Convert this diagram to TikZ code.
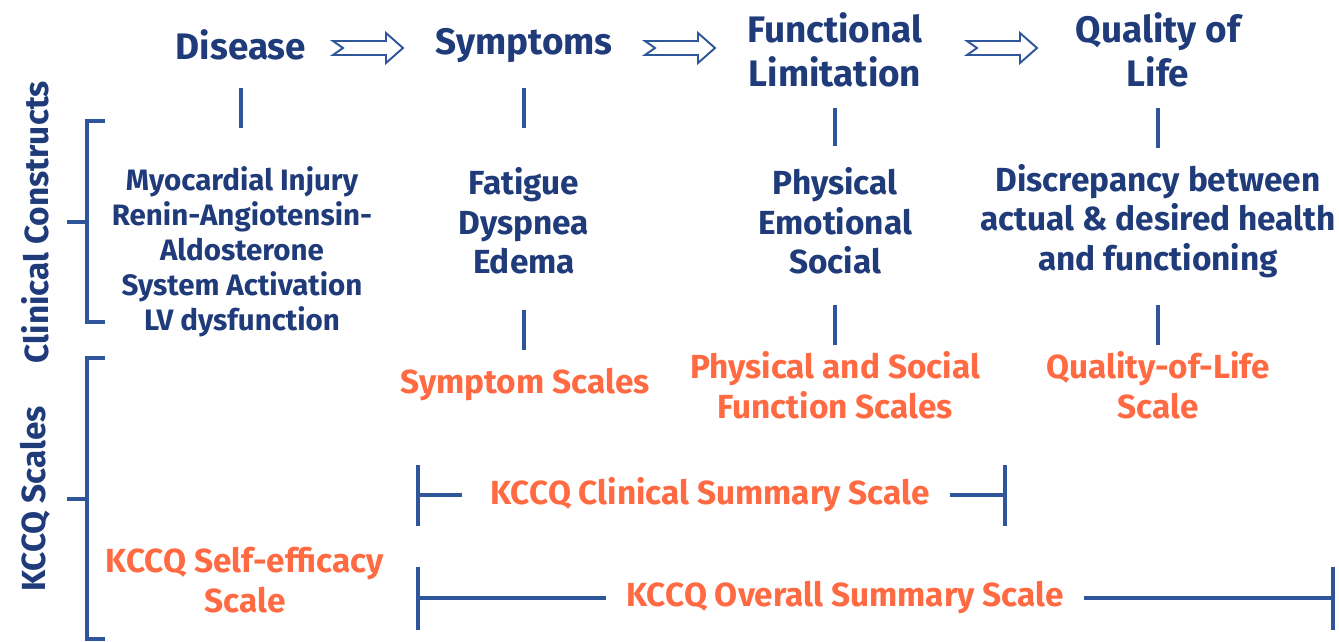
\documentclass[tikz,border=0pt]{standalone}
\usepackage{fontspec}
\setmainfont{Fira Sans}
\usetikzlibrary{calc}

\definecolor{navy}{HTML}{1F3B7A}
\definecolor{lineblue}{HTML}{2F569B}
\definecolor{scaleorange}{HTML}{FF6A42}

\tikzset{
	head/.style={font=\bfseries\fontsize{21}{25}\selectfont, text=navy, align=center, inner sep=0pt},
	body/.style={font=\bfseries\fontsize{19}{22.5}\selectfont, text=navy, align=center, inner sep=0pt},
	scalelbl/.style={font=\bfseries\fontsize{19}{22.5}\selectfont, text=scaleorange, align=center, inner sep=0pt},
	side/.style={font=\bfseries\fontsize{19}{22}\selectfont, text=navy, rotate=90, inner sep=0pt},
	link/.style={draw=lineblue, line width=2pt},
	fatarrow/.style={draw=lineblue, line width=1.1pt, fill=white, line join=miter}
}

% outlined arrow with a notched tail, from #1 to #2
\newcommand{\hollowarrow}[2]{%
	\draw[fatarrow] ($(#1)+(0,-7)$) -- ($(#2)+(-17,-7)$) -- ($(#2)+(-17,-15)$) -- (#2)
		-- ($(#2)+(-17,15)$) -- ($(#2)+(-17,7)$) -- ($(#1)+(0,7)$) -- ($(#1)+(10,0)$) -- cycle;}

\begin{document}
\begin{tikzpicture}[x=0.02cm, y=-0.02cm]
	\useasboundingbox (0,0) rectangle (1339,642);
	
	% headings
	\node[head] (dis) at (241,45) {Disease};
	\node[head] (sym) at (524,45) {Symptoms};
	\node[head] (fun) at (835,50) {Functional\\Limitation};
	\node[head] (qol) at (1158,50) {Quality of\\Life};
	
	\coordinate (a1) at (333,48);
	\coordinate (b1) at (403,48);
	\coordinate (a2) at (645,48);
	\coordinate (b2) at (715,48);
	\coordinate (a3) at (967,48);
	\coordinate (b3) at (1037,48);
	\hollowarrow{a1}{b1}
	\hollowarrow{a2}{b2}
	\hollowarrow{a3}{b3}
	
	% clinical constructs
	\node[body, font=\bfseries\fontsize{16.8}{19.9}\selectfont] (disbody) at (242,252)
		{Myocardial Injury\\Renin-Angiotensin-\\Aldosterone\\System Activation\\LV dysfunction};
	\node[body] (symbody) at (524,221) {Fatigue\\Dyspnea\\Edema};
	\node[body] (funbody) at (835,221) {Physical\\Emotional\\Social};
	\node[body] (qolbody) at (1158,221) {Discrepancy between\\actual \& desired health\\and functioning};
	
	\draw[link] (241,88) -- (241,128);
	\draw[link] (524,88) -- (524,128);
	\draw[link] (835,108) -- (835,146);
	\draw[link] (1158,108) -- (1158,148);
	
	\draw[link] (524,310) -- (524,350);
	\draw[link] (835,305) -- (835,345);
	\draw[link] (1158,305) -- (1158,345);
	
	% KCCQ scales
	\node[scalelbl] (symsc) at (525,385) {Symptom Scales};
	\node[scalelbl] (funsc) at (835,385) {Physical and Social\\Function Scales};
	\node[scalelbl] (qolsc) at (1158,385) {Quality-of-Life\\Scale};
	\node[scalelbl] (self) at (245,580) {KCCQ Self-efficacy\\Scale};
	\node[scalelbl] (clin) at (710,495) {KCCQ Clinical Summary Scale};
	\node[scalelbl] (over) at (845,598) {KCCQ Overall Summary Scale};
	
	\coordinate (cl) at (418,495);
	\coordinate (cr) at (1005,495);
	\coordinate (ol) at (418,598);
	\coordinate (or) at (1333,598);
	\draw[link] (cl) -- ($(clin.west)+(-28,0)$);
	\draw[link] ($(clin.east)+(20,0)$) -- (cr);
	\draw[link] (ol) -- ($(over.west)+(-20,0)$);
	\draw[link] ($(over.east)+(20,0)$) -- (or);
	\draw[link] (418,465) -- (418,526);
	\draw[link] (1005,465) -- (1005,526);
	\draw[link] (418,567) -- (418,630);
	\draw[link] (1333,567) -- (1333,630);
	
	% side brackets
	\node[side] (cc) at (35,222) {Clinical Constructs};
	\node[side] (ks) at (35,499) {KCCQ Scales};
	\draw[link] (105,121) -- (87,121) -- (87,322) -- (105,322);
	\draw[link] (67,222) -- (87,222);
	\draw[link] (105,358) -- (87,358) -- (87,639) -- (105,639);
	\draw[link] (67,499) -- (87,499);
\end{tikzpicture}
\end{document}
